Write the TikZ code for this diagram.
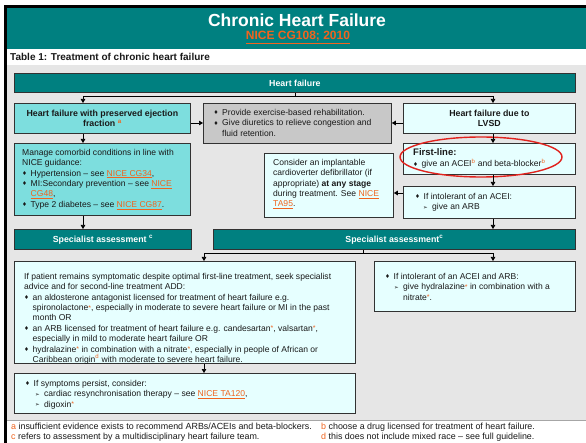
\documentclass[tikz,border=0pt]{standalone}
\usepackage{fontspec}
\setmainfont{Liberation Sans}
\newfontfamily\dv{DejaVu Sans}
\usetikzlibrary{arrows.meta,shapes.geometric}
\definecolor{teal1}{RGB}{0,128,128}
\definecolor{cyan1}{RGB}{125,222,222}
\definecolor{lcyan}{RGB}{230,255,255}
\definecolor{gray1}{RGB}{200,200,200}
\definecolor{bg}{RGB}{230,230,230}
\definecolor{lnk}{RGB}{240,100,30}
\definecolor{redl}{RGB}{225,35,30}
\definecolor{bordc}{RGB}{50,50,50}
\definecolor{txtc}{RGB}{25,25,25}
\newcommand{\bodyf}{\fontsize{8.55}{10.4}\selectfont}
\newcommand{\hdf}{\fontsize{8.8}{10.6}\selectfont\bfseries}
\newcommand{\bul}{\makebox[8.5pt][l]{\raisebox{0.6pt}{\dv\fontsize{5.5}{6}\selectfont ♦}}}
\newcommand{\subb}{\makebox[9pt][l]{\raisebox{0.3pt}{\dv\fontsize{5.5}{6}\selectfont ➢}}}
\newcommand{\as}{\raisebox{0.5pt}{\textcolor{lnk}{\fontsize{7}{7}\selectfont *}}}
\newcommand{\sps}[1]{\textsuperscript{\textcolor{lnk}{#1}}}
\newcommand{\lnk}[1]{\textcolor{lnk}{\underline{#1}}}
\newcommand{\cind}{\hspace*{8.5pt}}
\begin{document}
\begin{tikzpicture}[x=1pt,y=-1pt,
  bx/.style={draw=bordc, line width=0.8pt, inner sep=0pt, anchor=north west},
  tealbox/.style={bx, fill=teal1},
  cyanbox/.style={bx, fill=cyan1},
  lightbox/.style={bx, fill=lcyan},
  graybox/.style={bx, fill=gray1},
  txt/.style={anchor=north west, inner sep=0pt, align=left, font=\bodyf, text=txtc},
  arr/.style={-{Triangle[length=4pt,width=4.5pt]}, line width=0.7pt, draw=black},
  foot/.style={anchor=base west, inner sep=0pt, font=\fontsize{8.9}{10}\selectfont, text=txtc}]
\useasboundingbox (0,0) rectangle (586,443);
\fill[white] (0,0) rectangle (586,443);
\fill[black] (4,5) rectangle (586,443);
\fill[teal1] (7,8) rectangle (586,49);
\fill[white] (7,49) rectangle (586,65);
\fill[bg] (7,65) rectangle (586,420);
\fill[white] (7,420) rectangle (586,443);
\draw[gray!70, line width=0.6pt] (7,420) -- (586,420);

\node[font=\fontsize{17.5}{20}\selectfont\bfseries, text=white, inner sep=0pt] (title) at (297,20) {Chronic Heart Failure};
\node[font=\fontsize{12}{14}\selectfont\bfseries, inner sep=0pt] (subt) at (298,37.5) {\lnk{NICE CG108; 2010}};
\node[font=\fontsize{10}{12}\selectfont\bfseries, anchor=west, inner sep=0pt, text=txtc] (tbl) at (10,56.5) {Table 1: Treatment of chronic heart failure};

% row 0
\node[tealbox, minimum width=561pt, minimum height=19pt, font=\hdf, text=white] (bar) at (14,73) {Heart failure};

% row 1
\node[cyanbox, minimum width=176pt, minimum height=30pt, align=center, font=\hdf, text=txtc] (hfpef) at (14,103) {Heart failure with preserved ejection\\ fraction \sps{a}};
\node[graybox, minimum width=188pt, minimum height=40pt] (gray) at (203,103) {};
\node[txt] (grayt) at (213.5,109) {\bul Provide exercise-based rehabilitation.\\ \bul Give diuretics to relieve congestion and\\ \cind fluid retention.};
\node[lightbox, minimum width=172pt, minimum height=30pt, align=center, font=\hdf, text=txtc] (lvsd) at (403,103) {Heart failure due to\\ LVSD};

% row 2
\node[cyanbox, minimum width=176pt, minimum height=72pt] (comorbid) at (14,143) {};
\node[txt] (comorbidt) at (22,149) {Manage comorbid conditions in line with\\ NICE guidance:\\ \bul Hypertension -- see \lnk{NICE CG34},\\ \bul MI:Secondary prevention -- see \lnk{NICE}\\ \cind\lnk{CG48},\\ \bul Type 2 diabetes -- see \lnk{NICE CG87}.};
\node[lightbox, minimum width=129pt, minimum height=64pt] (consider) at (264,153) {};
\node[txt] (considert) at (273,159) {Consider an implantable\\ cardioverter defibrillator (if\\ appropriate) \textbf{at any stage}\\ during treatment. See \lnk{NICE}\\ \lnk{TA95}.};
\node[lightbox, minimum width=172pt, minimum height=31pt] (firstline) at (403,143) {};
\node[txt] (firstlinet) at (413,148) {{\fontsize{9.5}{11}\selectfont\bfseries First-line:}\\[1.5pt] \bul give an ACEI\sps{b} and beta-blocker\sps{b}};
\node[lightbox, minimum width=172pt, minimum height=32pt] (intol) at (403,186) {};
\node[txt] (intolt) at (415,193) {\bul If intolerant of an ACEI:\\ \hspace*{8pt}\subb give an ARB};

% row 3
\node[tealbox, minimum width=177pt, minimum height=20pt, font=\hdf, text=white] (spec1) at (14,229) {Specialist assessment \textsuperscript{c}};
\node[tealbox, minimum width=362pt, minimum height=20pt, font=\hdf, text=white] (spec2) at (213,229) {Specialist assessment\textsuperscript{c}};

% row 4
\node[lightbox, minimum width=341pt, minimum height=102pt] (big) at (14,261) {};
\node[txt] (bigt) at (24,273) {If patient remains symptomatic despite optimal first-line treatment, seek specialist\\
advice and for second-line treatment ADD:\\
\bul an aldosterone antagonist licensed for treatment of heart failure e.g.\\
\cind spironolactone\as, especially in moderate to severe heart failure or MI in the past\\
\cind month OR\\
\bul an ARB licensed for treatment of heart failure e.g. candesartan\as, valsartan\as,\\
\cind especially in mild to moderate heart failure OR\\
\bul hydralazine\as{} in combination with a nitrate\as, especially in people of African or\\
\cind Caribbean origin\sps{d} with moderate to severe heart failure.};
\node[lightbox, minimum width=201pt, minimum height=50pt] (acearb) at (374,261) {};
\node[txt] (acearbt) at (385,273) {\bul If intolerant of an ACEI and ARB:\\ \hspace*{9pt}\subb give hydralazine\as{} in combination with a\\ \hspace*{18pt}nitrate\as.};

% row 5
\node[lightbox, minimum width=341pt, minimum height=40pt] (persist) at (14,373) {};
\node[txt] (persistt) at (25,380) {\bul If symptoms persist, consider:\\ \hspace*{10pt}\subb cardiac resynchronisation therapy -- see \lnk{NICE TA120},\\ \hspace*{10pt}\subb digoxin\as};

% highlight
\node[draw=redl, line width=1.4pt, ellipse, minimum width=162pt, minimum height=40pt, inner sep=0pt] (ell) at (481,157) {};

% connectors
\coordinate (colL) at (83,96);
\coordinate (colR) at (493,96);
\coordinate (rowA) at (0,123);
\coordinate (rowB) at (0,193);
\coordinate (colM) at (363,253);
\coordinate (colB) at (204,253);
\coordinate (colC) at (493,253);
\draw[arr] (bar.south) |- (colL) -- (hfpef.north -| colL);
\draw[arr] (bar.south) |- (colR) -- (lvsd.north -| colR);
\draw[arr] (hfpef.east |- rowA) -- (gray.west |- rowA);
\draw[arr] (lvsd.west |- rowA) -- (gray.east |- rowA);
\draw[arr] (hfpef.south -| colL) -- (comorbid.north -| colL);
\draw[arr] (comorbid.south -| colL) -- (spec1.north -| colL);
\draw[arr] (lvsd.south -| colR) -- (firstline.north -| colR);
\draw[arr] (firstline.south -| colR) -- (intol.north -| colR);
\draw[arr] (intol.west |- rowB) -- (consider.east |- rowB);
\draw[arr] (intol.south -| colR) -- (spec2.north -| colR);
\draw[arr] (spec2.south -| colM) -- (colM) -| (big.north -| colB);
\draw[arr] (colM) -| (acearb.north -| colC);
\draw[arr] (big.south -| colB) -- (persist.north -| colB);

% footnotes
\node[foot] (fa) at (11,429) {\textcolor{lnk}{a} insufficient evidence exists to recommend ARBs/ACEIs and beta-blockers.};
\node[foot] (fc) at (11,439) {\textcolor{lnk}{c} refers to assessment by a multidisciplinary heart failure team.};
\node[foot] (fb) at (321,429) {\textcolor{lnk}{b} choose a drug licensed for treatment of heart failure.};
\node[foot] (fd) at (321,439) {\textcolor{lnk}{d} this does not include mixed race -- see full guideline.};
\end{tikzpicture}
\end{document}
